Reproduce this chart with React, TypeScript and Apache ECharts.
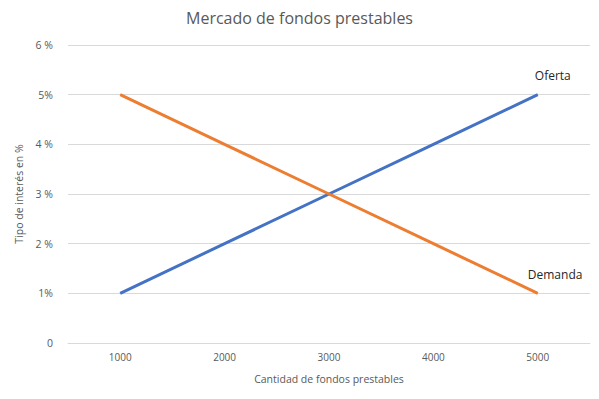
import React, { useEffect, useRef } from "react";
import * as echarts from "echarts";

const categories = ["1000", "2000", "3000", "4000", "5000"];
const ofertaValues = [1, 2, 3, 4, 5];
const demandaValues = [5, 4, 3, 2, 1];
const yTickLabels: Record<number, string> = { 0: "0", 1: "1%", 2: "2 %", 3: "3 %", 4: "4 %", 5: "5%", 6: "6 %" };
const seriesNames = ["Oferta", "Demanda"];

const FONT = "'Open Sans', sans-serif";
const GREY = "#595959";

export default function App() {
  const ref = useRef<HTMLDivElement>(null);
  useEffect(() => {
    if (!ref.current) return;
    const chart = echarts.init(ref.current, undefined, { renderer: "svg" });
    const endLabel = (offset: number[]) => ({
      show: true,
      formatter: "{a}",
      offset,
      color: "#262626",
      fontSize: 12,
      fontFamily: FONT,
    });
    chart.setOption({
      animation: false,
      title: {
        text: "Mercado de fondos prestables",
        left: "center",
        top: 5,
        textStyle: { color: GREY, fontSize: 16, fontWeight: "normal", fontFamily: FONT },
      },
      grid: { left: 68, right: 9, top: 45, bottom: 56 },
      xAxis: {
        type: "category",
        data: categories,
        boundaryGap: true,
        name: "Cantidad de fondos prestables",
        nameLocation: "middle",
        nameGap: 30,
        nameTextStyle: { color: GREY, fontSize: 10.5, fontFamily: FONT },
        axisLine: { show: true, lineStyle: { color: "#D9D9D9" } },
        axisTick: { show: false },
        axisLabel: { color: GREY, fontSize: 10, fontFamily: FONT, margin: 9 },
      },
      yAxis: {
        type: "value",
        min: 0,
        max: 6,
        interval: 1,
        name: "Tipo de interés en %",
        nameLocation: "middle",
        nameGap: 39,
        nameTextStyle: { color: GREY, fontSize: 10.5, fontFamily: FONT },
        axisLine: { show: false },
        axisTick: { show: false },
        splitLine: { lineStyle: { color: "#D9D9D9" } },
        axisLabel: {
          color: GREY,
          fontSize: 10.5,
          fontFamily: FONT,
          margin: 15,
          formatter: (v: number) => yTickLabels[v] ?? String(v),
        },
      },
      series: [
        {
          name: seriesNames[0],
          type: "line",
          data: ofertaValues,
          symbol: "none",
          lineStyle: { color: "#4472C4", width: 3 },
          itemStyle: { color: "#4472C4" },
          endLabel: endLabel([-11, -19]),
        },
        {
          name: seriesNames[1],
          type: "line",
          data: demandaValues,
          symbol: "none",
          lineStyle: { color: "#ED7D31", width: 3 },
          itemStyle: { color: "#ED7D31" },
          endLabel: endLabel([-18, -19]),
        },
      ],
    });
    return () => chart.dispose();
  }, []);
  return <div ref={ref} style={{ width: 599, height: 399, position: "absolute", left: 0, top: 0 }} />;
}
